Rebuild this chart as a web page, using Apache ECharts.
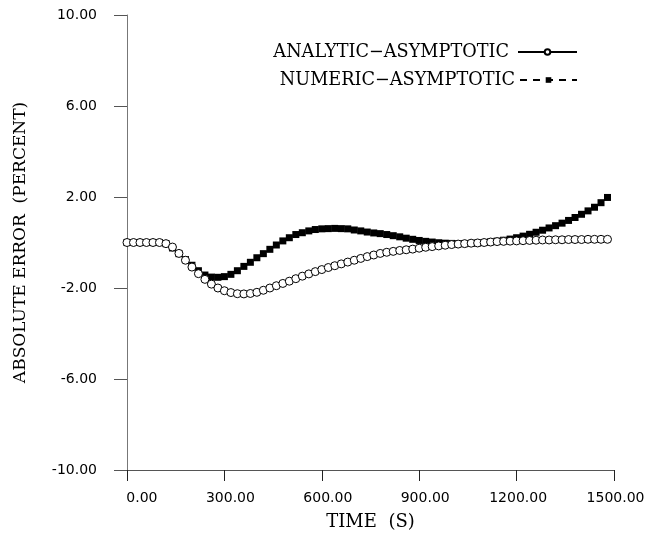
<!DOCTYPE html>
<html><head><meta charset="utf-8">
<script src="https://cdn.jsdelivr.net/npm/echarts@6/dist/echarts.min.js"></script>
<style>html,body{margin:0;padding:0;background:#fff}#c{width:661px;height:533px}</style>
</head><body><div id="c"></div>
<script>
const times = [0,20,40,60,80,100,120,140,160,180,200,220,240,260,280,300,320,340,360,380,
  400,420,440,460,480,500,520,540,560,580,600,620,640,660,680,700,720,740,760,780,
  800,820,840,860,880,900,920,940,960,980,1000,1020,1040,1060,1080,1100,1120,1140,1160,1180,
  1200,1220,1240,1260,1280,1300,1320,1340,1360,1380,1400,1420,1440,1460,1480];
const analytic = [0,0,0,0,0,0,-0.05,-0.20,-0.48,-0.78,
  -1.08,-1.37,-1.62,-1.83,-2.00,-2.12,-2.20,-2.25,-2.26,-2.24,
  -2.19,-2.10,-2.00,-1.90,-1.80,-1.70,-1.59,-1.48,-1.38,-1.28,
  -1.19,-1.10,-1.02,-0.94,-0.86,-0.78,-0.70,-0.62,-0.55,-0.48,
  -0.43,-0.39,-0.35,-0.32,-0.29,-0.25,-0.21,-0.18,-0.15,-0.12,
  -0.09,-0.07,-0.05,-0.03,-0.02,0.00,0.02,0.04,0.05,0.06,
  0.07,0.08,0.09,0.10,0.11,0.11,0.12,0.12,0.13,0.13,
  0.13,0.14,0.14,0.14,0.14];
const numeric = [0,0,0,0,0,0,-0.05,-0.24,-0.49,-0.75,
  -1.00,-1.24,-1.43,-1.52,-1.53,-1.50,-1.40,-1.24,-1.05,-0.87,
  -0.67,-0.49,-0.30,-0.11,0.07,0.21,0.35,0.43,0.51,0.57,
  0.60,0.61,0.62,0.61,0.60,0.55,0.51,0.46,0.42,0.39,
  0.35,0.30,0.25,0.19,0.14,0.09,0.05,0.02,-0.01,-0.03,
  -0.04,-0.05,-0.05,-0.04,-0.02,0.00,0.03,0.06,0.10,0.15,
  0.21,0.28,0.36,0.45,0.54,0.64,0.74,0.85,0.97,1.10,
  1.24,1.39,1.55,1.75,1.98];
const xTicks = [0,300,600,900,1200,1500];
const yTicks = [-10,-6,-2,2,6,10];
const seriesNames = ['ANALYTIC\u2212ASYMPTOTIC', 'NUMERIC\u2212ASYMPTOTIC'];
const xTitle = 'TIME  (S)';
const yTitle = 'ABSOLUTE ERROR  (PERCENT)';

const chart = echarts.init(document.getElementById('c'), null, {renderer: 'canvas'});
const serif = 'DejaVu Serif';
const sans = 'DejaVu Sans';
function legendFor(name, top, width, right, pad) {
  return {
    data: [name], top: top, right: right, align: 'right',
    itemWidth: width, itemHeight: 7, padding: 0, itemGap: 0,
    textStyle: {fontFamily: serif, fontSize: 17.7, color: '#000', padding: [0, pad, 0, 0]}
  };
}
chart.setOption({
  animation: false,
  backgroundColor: '#fff',
  grid: {left: 127, right: 47, top: 15, bottom: 63, outerBoundsMode: 'none', containLabel: false},
  legend: [
    legendFor(seriesNames[0], 43, 59, 83, 4),
    legendFor(seriesNames[1], 71, 57, 83, 0)
  ],
  xAxis: {
    type: 'value', min: 0, max: 1500, interval: 300,
    name: xTitle, nameLocation: 'middle', nameGap: 43,
    nameTextStyle: {fontFamily: serif, fontSize: 18, color: '#000'},
    axisLine: {onZero: false, lineStyle: {color: '#555', width: 1}},
    axisTick: {inside: false, length: 11, customValues: xTicks, lineStyle: {color: '#222'}},
    axisLabel: {
      customValues: xTicks, margin: 21, align: 'center',
      formatter: v => '{a|' + v.toFixed(2) + '}',
      rich: {a: {width: 61, align: 'right', fontFamily: sans, fontSize: 14, color: '#000'}}
    },
    splitLine: {show: false}
  },
  yAxis: {
    type: 'value', min: -10, max: 10, interval: 2,
    name: yTitle, nameLocation: 'middle', nameGap: 98,
    nameTextStyle: {fontFamily: serif, fontSize: 17, color: '#000'},
    axisLine: {onZero: false, lineStyle: {color: '#777', width: 1}},
    axisTick: {inside: false, length: 13, customValues: yTicks, lineStyle: {color: '#555'}},
    axisLabel: {
      customValues: yTicks, margin: 30,
      formatter: v => v.toFixed(2),
      fontFamily: sans, fontSize: 14, color: '#000'
    },
    splitLine: {show: false}
  },
  series: [
    {
      name: seriesNames[1], type: 'line',
      data: times.map((t, i) => [t, numeric[i]]),
      symbol: 'rect', symbolSize: 7, showAllSymbol: true,
      lineStyle: {color: '#000', width: 1, type: [7, 6]},
      itemStyle: {color: '#000'}
    },
    {
      name: seriesNames[0], type: 'line',
      data: times.map((t, i) => [t, analytic[i]]),
      symbol: 'circle', symbolSize: 8, showAllSymbol: true,
      lineStyle: {color: '#000', width: 1},
      itemStyle: {color: '#fff', borderColor: '#000', borderWidth: 1}
    }
  ]
});
</script>
</body></html>
